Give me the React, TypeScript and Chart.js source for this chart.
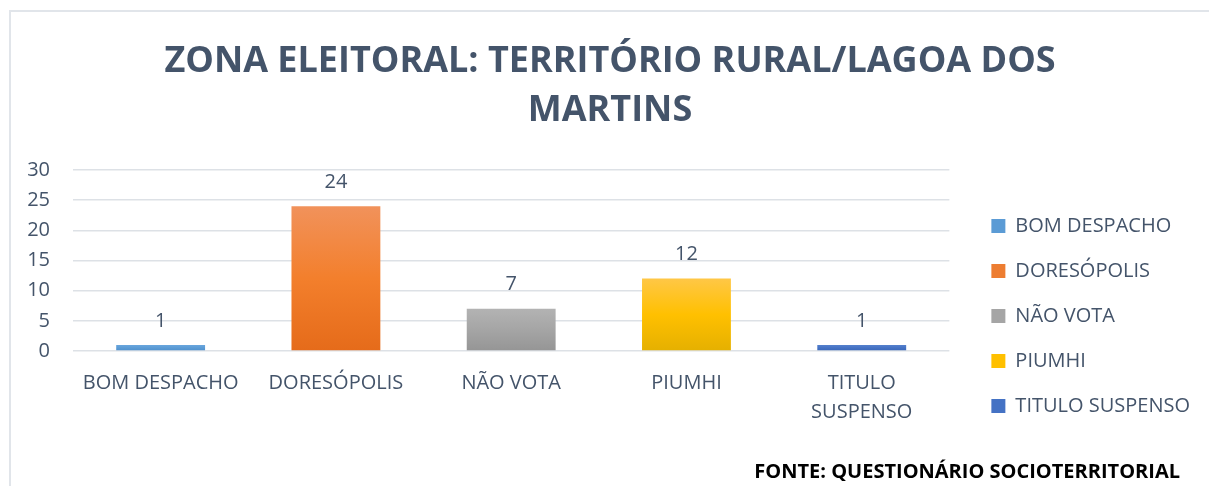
import React, { useEffect, useRef } from "react";
import { Chart, registerables } from "chart.js";

Chart.register(...registerables);

const TITLE_LINES = ["ZONA ELEITORAL: TERRITÓRIO RURAL/LAGOA DOS", "MARTINS"];
const CATEGORIES = ["BOM DESPACHO", "DORESÓPOLIS", "NÃO VOTA", "PIUMHI", "TITULO SUSPENSO"];
const X_LABELS: (string | string[])[] = ["BOM DESPACHO", "DORESÓPOLIS", "NÃO VOTA", "PIUMHI", ["TITULO", "SUSPENSO"]];
const VALUES = [1, 24, 7, 12, 1];
const Y_TICKS = [0, 5, 10, 15, 20, 25, 30];
const SOURCE = "FONTE: QUESTIONÁRIO SOCIOTERRITORIAL";

// gradient stops per category: [top, middle, bottom]
const BAR_COLORS = [
  ["#6AA6DD", "#5B9BD5", "#4F8FCB"],
  ["#F1925B", "#F37F2C", "#E56B1A"],
  ["#B3B3B3", "#A5A5A5", "#959595"],
  ["#FFC746", "#FFC000", "#E5B000"],
  ["#5580CC", "#4472C4", "#3A66B6"],
];
const LEGEND_COLORS = ["#5B9BD5", "#ED7D31", "#A5A5A5", "#FFC000", "#4472C4"];

const TEXT = "#44546A";
const FONT = "'Open Sans', sans-serif";

const valueLabels = {
  id: "valueLabels",
  afterDatasetsDraw(chart: any) {
    const ctx = chart.ctx;
    const meta = chart.getDatasetMeta(0);
    ctx.save();
    ctx.font = `20px ${FONT}`;
    ctx.fillStyle = TEXT;
    ctx.textAlign = "center";
    ctx.textBaseline = "middle";
    meta.data.forEach((el: any, i: number) => {
      ctx.fillText(String(VALUES[i]), el.x, el.y - 24);
    });
    ctx.restore();
  },
};

export default function App() {
  const ref = useRef<HTMLCanvasElement>(null);
  useEffect(() => {
    if (!ref.current) return;
    const chart = new Chart(ref.current, {
      type: "bar",
      data: {
        labels: X_LABELS as any,
        datasets: [
          {
            data: VALUES,
            backgroundColor: (c: any) => {
              const chart = c.chart;
              const y = chart.scales?.y;
              const i = c.dataIndex;
              if (!y || i === undefined) return LEGEND_COLORS[i ?? 0];
              const top = y.getPixelForValue(VALUES[i]);
              const bot = y.getPixelForValue(0);
              if (!isFinite(top) || !isFinite(bot) || top === bot) return BAR_COLORS[i][1];
              const g = chart.ctx.createLinearGradient(0, top, 0, bot);
              g.addColorStop(0, BAR_COLORS[i][0]);
              g.addColorStop(0.5, BAR_COLORS[i][1]);
              g.addColorStop(1, BAR_COLORS[i][2]);
              return g;
            },
            borderWidth: 0,
            barPercentage: 1,
            categoryPercentage: 0.507,
          },
        ],
      },
      options: {
        responsive: true,
        maintainAspectRatio: false,
        animation: false,
        layout: { padding: { left: 0, right: 9, top: 0, bottom: 37 } },
        plugins: {
          title: {
            display: true,
            text: TITLE_LINES,
            color: TEXT,
            font: { family: FONT, size: 36, weight: "bold", lineHeight: 1.36 },
            padding: { top: 25, bottom: 35 },
          },
          legend: {
            display: true,
            position: "right",
            align: "start",
            maxWidth: 260,
            title: {
              display: true,
              text: " ",
              font: { size: 1, lineHeight: 1 },
              padding: { top: 178, bottom: 0 },
            },
            labels: {
              color: TEXT,
              font: { family: FONT, size: 20 },
              boxWidth: 14,
              boxHeight: 14,
              padding: 25,
              generateLabels: () =>
                CATEGORIES.map((name, i) => ({
                  text: name,
                  fillStyle: LEGEND_COLORS[i],
                  strokeStyle: LEGEND_COLORS[i],
                  lineWidth: 0,
                  hidden: false,
                  index: i,
                  datasetIndex: 0,
                  fontColor: TEXT,
                })),
            },
          },
          tooltip: { enabled: false },
        },
        scales: {
          x: {
            grid: { display: false },
            border: { display: false },
            ticks: {
              color: TEXT,
              font: { family: FONT, size: 20, lineHeight: 1.45 },
              maxRotation: 0,
              autoSkip: false,
              padding: 10,
            },
            afterFit: (s: any) => {
              s.height += 12;
            },
          },
          y: {
            min: 0,
            max: 30,
            afterBuildTicks: (s: any) => {
              s.ticks = Y_TICKS.map((v) => ({ value: v }));
            },
            afterFit: (s: any) => {
              s.width = 53;
            },
            grid: { color: "#DDE1E6", lineWidth: 1.5, drawTicks: false },
            border: { display: false },
            ticks: { color: TEXT, font: { family: FONT, size: 20 }, padding: 23, autoSkip: false },
          },
          gap: {
            position: "right",
            display: true,
            grid: { display: false, drawTicks: false },
            border: { display: false },
            ticks: { display: false },
            afterFit: (s: any) => {
              s.width = 17;
            },
          },
        },
      },
      plugins: [valueLabels],
    });
    return () => chart.destroy();
  }, []);

  return (
    <div style={{ position: "fixed", left: 0, top: 0, width: 1209, height: 486, overflow: "hidden", background: "#fff" }}>
      <div
        style={{
          position: "absolute",
          left: 9,
          top: 10,
          width: 1250,
          height: 520,
          border: "2px solid #E1E5EA",
          boxSizing: "border-box",
        }}
      />
      <div style={{ position: "absolute", left: 20, top: 12, width: 1189, height: 474 }}>
        <canvas ref={ref} />
      </div>
      <div
        style={{
          position: "absolute",
          right: 29,
          top: 459,
          fontFamily: FONT,
          fontWeight: "bold",
          fontSize: 20,
          color: "#000",
          whiteSpace: "nowrap",
          lineHeight: "24px",
        }}
      >
        {SOURCE}
      </div>
    </div>
  );
}
